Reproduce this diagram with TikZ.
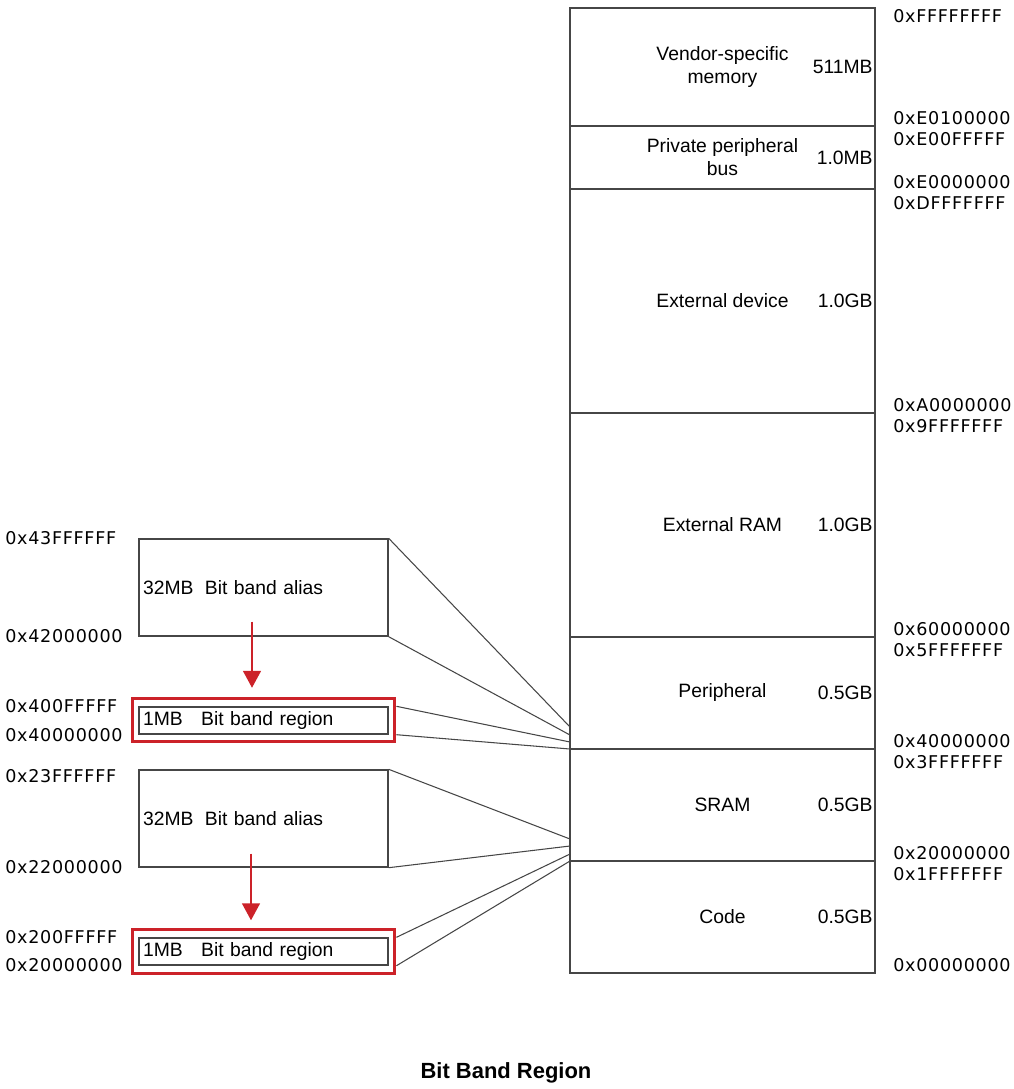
\documentclass[tikz,border=0pt]{standalone}
\usepackage{fontspec}
\setmainfont{Liberation Sans}
\newfontfamily\addrfont[LetterSpace=4]{DejaVu Sans}
\usepackage{tikz}
\usetikzlibrary{arrows.meta,positioning}
\definecolor{bandred}{RGB}{204,34,41}
\definecolor{linegray}{RGB}{70,70,70}
\tikzset{
    seg/.style={draw=linegray, line width=0.9pt, minimum width=6.1cm, minimum height=#1, inner sep=0pt, outer sep=0pt, align=center, font=\fontsize{11}{13}\selectfont},
    sizelbl/.style={anchor=east, inner sep=0pt, font=\fontsize{11}{13}\selectfont},
    addr/.style={anchor=west, inner sep=0pt, font=\addrfont\fontsize{10}{12}\selectfont},
    bandbox/.style={draw=linegray, line width=0.8pt, minimum width=4.98cm, minimum height=#1, text width=4.82cm, inner xsep=0.08cm, inner ysep=0pt, align=left, font=\fontsize{11}{13}\selectfont},
    redframe/.style={draw=bandred, line width=1.7pt, minimum width=5.26cm, minimum height=0.87cm, inner sep=0pt},
    linkline/.style={draw=linegray, line width=0.6pt},
    redarrow/.style={-{Triangle[width=0.36cm,length=0.34cm]}, draw=bandred, line width=0.9pt}
    }

\begin{document}
\begin{tikzpicture}[x=0.02cm, y=-0.02cm]
        \useasboundingbox (0,0) rectangle (1014,1089);

        % memory map
        \node[seg=2.36cm, anchor=north] (vendor) at (722.5,8) {Vendor-specific\\memory};
        \node[seg=1.26cm, below=0pt of vendor] (ppb) {Private peripheral\\bus};
        \node[seg=4.48cm, below=0pt of ppb] (extdev) {External device};
        \node[seg=4.48cm, below=0pt of extdev] (extram) {External RAM};
        \node[seg=2.24cm, below=0pt of extram] (periph) {Peripheral};
        \node[seg=2.24cm, below=0pt of periph] (sram) {SRAM};
        \node[seg=2.24cm, below=0pt of sram] (code) {Code};

        % sizes
        \node[sizelbl] (vendorsize) at ([xshift=-0.04cm]vendor.east) {511MB};
        \node[sizelbl] (ppbsize) at ([xshift=-0.04cm]ppb.east) {1.0MB};
        \node[sizelbl] (extdevsize) at ([xshift=-0.04cm]extdev.east) {1.0GB};
        \node[sizelbl] (extramsize) at ([xshift=-0.04cm]extram.east) {1.0GB};
        \node[sizelbl] (periphsize) at ([xshift=-0.04cm]periph.east) {0.5GB};
        \node[sizelbl] (sramsize) at ([xshift=-0.04cm]sram.east) {0.5GB};
        \node[sizelbl] (codesize) at ([xshift=-0.04cm]code.east) {0.5GB};

        % addresses
        \foreach \y/\a [count=\i] in {16/FFFFFFFF, 118/E0100000, 139/E00FFFFF, 182/E0000000, 203/DFFFFFFF, 405/A0000000, 426/9FFFFFFF, 629/60000000, 650/5FFFFFFF, 741/40000000, 762/3FFFFFFF, 853/20000000, 874/1FFFFFFF, 965/00000000}
            \node[addr] (ra\i) at (893,\y) {0x\a};
        \foreach \y/\a [count=\i] in {538/43FFFFFF, 636/42000000, 706/400FFFFF, 735/40000000, 776/23FFFFFF, 867/22000000, 937/200FFFFF, 965/20000000}
            \node[addr] (la\i) at (5,\y) {0x\a};

        % bit band
        \node[bandbox=1.94cm] (alias1) at (263.5,587.5) {32MB\hspace{6.5pt}Bit band alias};
        \node[bandbox=0.54cm] (band1) at (263.5,720.5) {1MB\hspace{10.5pt}Bit band region};
        \node[redframe] (frame1) at (263.5,720) {};
        \node[bandbox=1.94cm] (alias2) at (263.5,818.5) {32MB\hspace{6.5pt}Bit band alias};
        \node[bandbox=0.54cm] (band2) at (263.5,951.5) {1MB\hspace{10.5pt}Bit band region};
        \node[redframe] (frame2) at (263.5,951.5) {};

        \coordinate (in1) at (570,727);
        \coordinate (in2) at (570,735);
        \coordinate (in3) at (570,742);
        \coordinate (in4) at (570,749);
        \coordinate (in5) at (570,839);
        \coordinate (in6) at (570,846);
        \coordinate (in7) at (570,854);
        \coordinate (in8) at (570,861);

        %edges
        \draw[linkline] (alias1.north east) -- (in1);
        \draw[linkline] (alias1.south east) -- (in2);
        \draw[linkline] (band1.north east -| frame1.east) -- (in3);
        \draw[linkline] (band1.south east -| frame1.east) -- (in4);
        \draw[linkline] (alias2.north east) -- (in5);
        \draw[linkline] (alias2.south east) -- (in6);
        \draw[linkline] (band2.north east -| frame2.east) -- (in7);
        \draw[linkline] (band2.south east -| frame2.east) -- (in8);

        \draw[redarrow] ([xshift=-0.23cm,yshift=0.3cm]alias1.south) -- ([xshift=-0.23cm,yshift=0.18cm]frame1.north);
        \draw[redarrow] ([xshift=-0.25cm,yshift=0.28cm]alias2.south) -- ([xshift=-0.25cm,yshift=0.16cm]frame2.north);

        \node[font=\bfseries\fontsize{12.5}{15}\selectfont] (title) at (506,1073) {Bit Band Region};
    \end{tikzpicture}
\end{document}
